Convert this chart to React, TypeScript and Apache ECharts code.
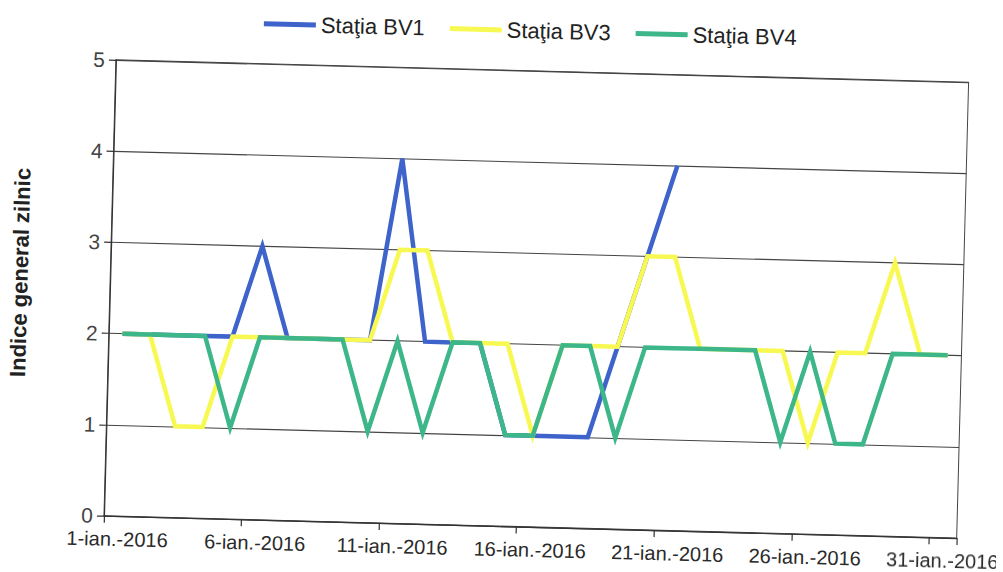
import React, { useEffect, useRef } from "react";
import * as echarts from "echarts";

const categories = [
  "1-ian.-2016", "2-ian.-2016", "3-ian.-2016", "4-ian.-2016", "5-ian.-2016",
  "6-ian.-2016", "7-ian.-2016", "8-ian.-2016", "9-ian.-2016", "10-ian.-2016",
  "11-ian.-2016", "12-ian.-2016", "13-ian.-2016", "14-ian.-2016", "15-ian.-2016",
  "16-ian.-2016", "17-ian.-2016", "18-ian.-2016", "19-ian.-2016", "20-ian.-2016",
  "21-ian.-2016", "22-ian.-2016", "23-ian.-2016", "24-ian.-2016", "25-ian.-2016",
  "26-ian.-2016", "27-ian.-2016", "28-ian.-2016", "29-ian.-2016", "30-ian.-2016",
  "31-ian.-2016",
];

const bv1 = [2, 2, 2, 2, 2, 3, 2, 2, 2, 2, 4, 2, 2, 2, 1, 1, 1, 1, 2, 3, 4,
  null, null, null, null, null, null, null, null, null, null];
const bv3 = [2, 2, 1, 1, 2, 2, 2, 2, 2, 2, 3, 3, 2, 2, 2, 1, 2, 2, 2, 3, 3,
  2, 2, 2, 2, 1, 2, 2, 3, 2, 2];
const bv4 = [2, 2, 2, 2, 1, 2, 2, 2, 2, 1, 2, 1, 2, 2, 1, 1, 2, 2, 1, 2, 2,
  2, 2, 2, 1, 2, 1, 1, 2, 2, 2];

const seriesNames = ["Staţia BV1", "Staţia BV3", "Staţia BV4"];
const seriesColors = ["#3E63CB", "#F8F852", "#3DB68A"];
const yAxisTitle = "Indice general zilnic";

const FONT = "'Liberation Sans', Arial, sans-serif";

export default function App() {
  const ref = useRef<HTMLDivElement>(null);

  useEffect(() => {
    if (!ref.current) return;
    const chart = echarts.init(ref.current, null, { renderer: "svg" });
    const datasets = [bv1, bv3, bv4];
    chart.setOption({
      animation: false,
      backgroundColor: "#ffffff",
      textStyle: { fontFamily: FONT },
      legend: {
        left: 252,
        top: 14,
        itemWidth: 52,
        itemHeight: 5,
        itemGap: 25,
        icon: "rect",
        textStyle: { fontSize: 22, color: "#222", fontFamily: FONT },
        data: seriesNames,
      },
      grid: {
        left: 110,
        right: 40,
        top: 70,
        bottom: 46,
        show: true,
        borderColor: "#444",
        borderWidth: 1,
        containLabel: false,
        outerBoundsMode: "none",
      },
      xAxis: {
        type: "category",
        data: categories,
        boundaryGap: true,
        axisLine: { show: true, lineStyle: { color: "#333", width: 1.2 } },
        axisTick: {
          show: true,
          interval: 4,
          length: 7,
          inside: false,
          lineStyle: { color: "#333", width: 1.2 },
        },
        axisLabel: {
          interval: 4,
          margin: 13,
          fontSize: 20,
          color: "#2a2a2a",
          fontFamily: FONT,
          hideOverlap: false,
        },
        splitLine: { show: false },
      },
      yAxis: {
        type: "value",
        min: 0,
        max: 5,
        interval: 1,
        name: yAxisTitle,
        nameLocation: "middle",
        nameGap: 79,
        nameRotate: 90,
        nameTextStyle: {
          fontSize: 22,
          fontWeight: "bold",
          color: "#222",
          fontFamily: FONT,
          padding: [0, 0, 0, 26],
        },
        axisLine: { show: true, lineStyle: { color: "#333", width: 1.2 } },
        axisTick: { show: true, length: 7, lineStyle: { color: "#333", width: 1.2 } },
        axisLabel: { margin: 11, fontSize: 21, color: "#444", fontFamily: FONT },
        splitLine: { show: true, lineStyle: { color: "#444", width: 1.1 } },
      },
      series: seriesNames.map((name, i) => ({
        name,
        type: "line",
        data: datasets[i],
        symbol: "none",
        showSymbol: false,
        connectNulls: false,
        lineStyle: { color: seriesColors[i], width: 4.5, join: "miter" },
        itemStyle: { color: seriesColors[i] },
      })),
    });
    return () => chart.dispose();
  }, []);

  return (
    <div
      style={{
        position: "fixed",
        left: 0,
        top: 0,
        width: 1003,
        height: 572,
        background: "#fff",
      }}
    >
      <div
        ref={ref}
        style={{
          width: 1003,
          height: 572,
          transform: "rotate(1.5deg)",
          transformOrigin: "500px 290px",
        }}
      />
    </div>
  );
}
